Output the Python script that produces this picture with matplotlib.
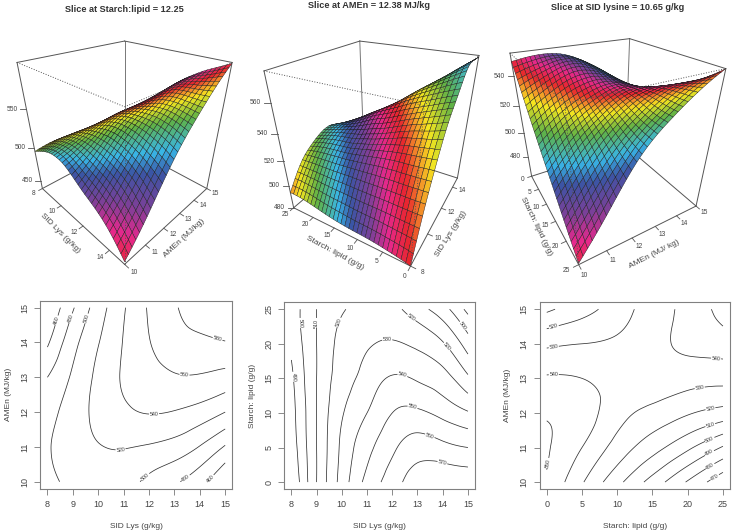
"""
Response surface slices: persp views on top, contour maps below
"""

import numpy as np
import matplotlib
matplotlib.use("Agg")
import matplotlib.pyplot as plt
import matplotlib.tri as mtri
from matplotlib.colors import LinearSegmentedColormap
from mpl_toolkits.mplot3d import proj3d

plt.rcParams['font.family'] = ['Liberation Sans', 'DejaVu Sans']

FIG_W, FIG_H = 733, 532

# values
lys_grid = [8, 9, 10, 11, 12, 13, 14, 15]
amen_grid = [10, 11, 12, 13, 14, 15]
starch_grid = [0, 5, 10, 15, 20, 25]

# rows = AMEn, columns = SID Lys
gain_lys_amen = [
    [495, 505, 511, 508, 495, 483, 467, 441],
    [498, 511, 519, 521, 518, 512, 499, 478],
    [492, 510, 525, 536, 541, 539, 532, 520],
    [480, 503, 525, 542, 552, 558, 558, 553],
    [457, 493, 519, 541, 559, 572, 576, 579],
    [440, 478, 510, 538, 562, 578, 590, 600],
]
# rows = starch:lipid, columns = SID Lys
gain_lys_starch = [
    [480, 510, 534, 553, 565, 576, 578, 577],
    [484, 510, 532, 547, 558, 565, 563, 560],
    [486, 510, 529, 540, 550, 552, 547, 541],
    [488, 510, 525, 534, 541, 539, 534, 522],
    [492, 510, 523, 529, 531, 528, 521, 505],
    [494, 510, 519, 524, 523, 514, 504, 487],
]
# rows = AMEn, columns = starch:lipid
gain_starch_amen = [
    [549, 531, 513, 496, 479, 463],
    [551, 540, 526, 514, 502, 489],
    [549, 545, 534, 527, 521, 516],
    [541, 540, 537, 536, 534, 533],
    [528, 530, 532, 537, 542, 545],
    [508, 516, 525, 535, 543, 554],
]

levels_1 = [440, 460, 480, 500, 520, 540, 560, 580]
levels_2 = [480, 490, 500, 510, 520, 530, 540, 550, 560, 570]
levels_3 = [470, 480, 490, 500, 510, 520, 530, 540, 550]

labels_1 = [(8.3, 14.65), (8.9, 14.7), (9.5, 14.7), (14.7, 14.1), (13.4, 13.1), (12.2, 11.95),
            (10.9, 10.8), (11.9, 10.1), (13.4, 10.15), (14.4, 10.1)]
labels_2 = [(8.0, 15.2), (8.35, 23), (9.03, 23), (9.95, 23), (11.8, 20.9), (12.4, 15.4),
            (12.8, 10.8), (13.5, 6.8), (14.0, 3.0), (12.8, 24), (14.3, 20), (14.75, 22.5)]
labels_3 = [(0.25, 10.55), (1, 13.1), (1, 13.9), (1, 14.5), (24, 13.5), (21.8, 12.6), (23.2, 12.15),
            (23.2, 11.65), (23.2, 11.2), (23.2, 10.8), (23.2, 10.45), (23.8, 10.15)]

rainbow = LinearSegmentedColormap.from_list("rainbow_muted", [
    (0.0, '#e8252d'), (0.08, '#f2872a'), (0.17, '#f6e61f'), (0.33, '#5fb246'),
    (0.5, '#39b6e6'), (0.6, '#3a55a5'), (0.75, '#7e3f98'), (0.87, '#e6288c'), (1.0, '#e8252d')])

TEXT = '#444444'
LINE = '#555555'


def px_axes(fig, left, top, right, bottom, **kw):
    return fig.add_axes([left / FIG_W, 1 - bottom / FIG_H, (right - left) / FIG_W, (bottom - top) / FIG_H], **kw)


def px_text(x, y, s, **kw):
    fig.text(x / FIG_W, 1 - y / FIG_H, s, ha='center', va='center', **kw)


def smooth(xs, ys, zs, n):
    """Resample a read-off grid on a fine mesh so the drawing is not angular."""
    xs, ys, zs = np.array(xs, float), np.array(ys, float), np.array(zs, float)
    gx, gy = np.meshgrid((xs - xs[0]) / (xs[-1] - xs[0]), (ys - ys[0]) / (ys[-1] - ys[0]))
    tri = mtri.Triangulation(gx.ravel(), gy.ravel())
    interp = mtri.CubicTriInterpolator(tri, zs.ravel(), kind='min_E')
    fx, fy = np.meshgrid(np.linspace(0, 1, n), np.linspace(0, 1, n))
    fz = np.ma.filled(interp(fx, fy), np.nan)
    fz[np.isnan(fz)] = zs.mean()
    return xs[0] + fx * (xs[-1] - xs[0]), ys[0] + fy * (ys[-1] - ys[0]), fz


def draw_contour(pos, xs, ys, zs, levels, manual, xticks, xlabel, ylabel):
    ax = px_axes(fig, *pos)
    X, Y, Z = smooth(xs, ys, zs, 141)
    cs = ax.contour(X, Y, Z, levels=levels, colors='#333333', linewidths=0.55)
    ax.clabel(cs, fmt='%d', fontsize=3.8, manual=manual, inline=True, inline_spacing=1)
    dx = (xs[-1] - xs[0]) * 0.04
    dy = (ys[-1] - ys[0]) * 0.04
    ax.set_xlim(xs[0] - dx, xs[-1] + dx)
    ax.set_ylim(ys[0] - dy, ys[-1] + dy)
    ax.set_xticks(xticks)
    ax.set_yticks(ys)
    ax.tick_params(length=4, width=0.6, color='#777777', labelcolor=TEXT, labelsize=6.5, pad=4)
    for lab in ax.get_yticklabels():
        lab.set_rotation(90)
        lab.set_va('center')
    for sp in ax.spines.values():
        sp.set_color('#808080')
        sp.set_linewidth(0.8)
    ax.set_xlabel(xlabel, fontsize=6, color=TEXT, labelpad=10)
    ax.set_ylabel(ylabel, fontsize=6, color=TEXT, labelpad=6)
    return ax


def draw_persp(center, side, xs, ys, zs, zlim, azim, hue, corners, first, second, zticks,
               elev=30, focal=0.217, zaspect=1.085):
    cx, cy = center
    ax = px_axes(fig, cx - side / 2, cy - side / 2, cx + side / 2, cy + side / 2,
                 projection='3d', computed_zorder=False)
    ax.patch.set_alpha(0)
    ax.set_axis_off()
    ax.set_proj_type('persp', focal_length=focal)
    ax.view_init(elev=elev, azim=azim)
    ax.set_box_aspect((1, 1, zaspect))
    xl = (xs[0], xs[-1])
    yl = (ys[0], ys[-1])
    ax.set_xlim(*xl)
    ax.set_ylim(*yl)
    ax.set_zlim(*zlim)
    ax.set_xticks([])
    ax.set_yticks([])
    ax.set_zticks([])
    dx, dy = xl[1] - xl[0], yl[1] - yl[0]
    zlo, zhi = zlim
    M = ax.get_proj()

    def seg(px, py, pz, zo, width=0.7, **kw):
        ax.plot(px, py, pz, color=LINE, linewidth=width, zorder=zo, clip_on=False, **kw)

    def edge(a, b, za, zb, zo, **kw):
        seg([a[0], b[0]], [a[1], b[1]], [za, zb], zo, **kw)

    def label(x, y, z, s, **kw):
        px, py, _ = proj3d.proj_transform(x, y, z, M)
        ax.text2D(px, py, s, transform=ax.transData, fontsize=4.8, color=TEXT, va='center', clip_on=False, **kw)

    # corner order on screen: left, front, right, back
    L, F, R, B = corners
    for a, b in [(L, B), (B, R)]:
        edge(a, b, zhi, zhi, 1)
        edge(a, b, zlo, zlo, 1)
    edge(B, B, zlo, zhi, 1, alpha=0.8)
    edge(L, L, zlo, zhi, 1)
    edge(R, R, zlo, zhi, 1)
    edge(L, F, zlo, zlo, 1)
    edge(F, R, zlo, zlo, 1)

    X, Y, Z = smooth(xs, ys, zs, 31)
    u = (X - xl[0]) / dx
    v = (Y - yl[0]) / dy
    colours = rainbow((hue[0] + hue[1] * u + hue[2] * v) % 1.0)
    surf = ax.plot_surface(X, Y, Z, facecolors=colours, rstride=1, cstride=1, shade=False,
                           edgecolor='#1a1a1a', linewidth=0.3, antialiased=True, zorder=2)
    surf.set_clip_on(False)

    # front edges are dotted over the surface
    edge(L, F, zhi, zhi, 3, linestyle=':')
    edge(F, R, zhi, zhi, 3, linestyle=':')
    edge(F, F, zlo, zhi, 3, linestyle=':')

    for axis in (first, second):
        ox, oy = axis['out']
        for pt, lab in zip(axis['points'], axis['labels']):
            seg([pt[0], pt[0] + 0.035 * dx * ox], [pt[1], pt[1] + 0.035 * dy * oy], [zlo, zlo], 4, width=0.6)
            label(pt[0] + 0.08 * dx * ox, pt[1] + 0.08 * dy * oy, zlo, str(lab), ha='center')

    # z ticks point straight left on screen
    sx = np.sin(np.radians(azim)) * dx
    sy = -np.cos(np.radians(azim)) * dy
    for val in zticks:
        seg([L[0], L[0] + 0.045 * sx], [L[1], L[1] + 0.045 * sy], [val, val], 4, width=0.6)
        label(L[0] + 0.065 * sx, L[1] + 0.065 * sy, val, str(val), ha='right')

    for axis in (first, second):
        x, y, s, rot = axis['title']
        px_text(x, y, s, rotation=rot, rotation_mode='anchor', fontsize=6, color=TEXT)
    return ax


fig = plt.figure(figsize=(FIG_W / 100, FIG_H / 100), dpi=100)

# top row
draw_persp((121.5, 137), 228, lys_grid, amen_grid, gain_lys_amen, (437, 601), -45, (0.25, 0.72, -1.0),
           [(8, 10), (15, 10), (15, 15), (8, 15)],
           {'out': (0, -1), 'points': [(v, 10) for v in (8, 10, 12, 14)], 'labels': (8, 10, 12, 14),
            'title': (60, 233, 'SID Lys (g/kg)', -45)},
           {'out': (1, 0), 'points': [(15, v) for v in (10, 11, 12, 13, 14, 15)], 'labels': (10, 11, 12, 13, 14, 15),
            'title': (184, 238, 'AMEn (MJ/kg)', 43)},
           (450, 500, 550))

draw_persp((378, 139), 234, lys_grid, starch_grid, gain_lys_starch, (480, 578), -150, (0.0, 0.66, -0.92),
           [(8, 25), (8, 0), (15, 0), (15, 25)],
           {'out': (-1, 0), 'points': [(8, v) for v in (25, 20, 15, 10, 5, 0)], 'labels': (25, 20, 15, 10, 5, 0),
            'title': (335, 253, 'Starch: lipid (g/g)', -28)},
           {'out': (0, -1), 'points': [(v, 0) for v in (8, 10, 12, 14)], 'labels': (8, 10, 12, 14),
            'title': (451, 234, 'SID Lys (g/kg)', 58)},
           (480, 500, 520, 540, 560))

draw_persp((605, 137), 235, starch_grid, amen_grid, gain_starch_amen, (462, 554), -30, (-0.03, 1.0, -0.97),
           [(0, 10), (25, 10), (25, 15), (0, 15)],
           {'out': (0, -1), 'points': [(v, 10) for v in (0, 5, 10, 15, 20, 25)], 'labels': (0, 5, 10, 15, 20, 25),
            'title': (536, 226, 'Starch: lipid (g/g)', -64)},
           {'out': (1, 0), 'points': [(25, v) for v in (10, 11, 12, 13, 14, 15)], 'labels': (10, 11, 12, 13, 14, 15),
            'title': (654, 254, 'AMEn (MJ/ kg)', 27)},
           (480, 500, 520, 540))

# bottom row
draw_contour((40.3, 300.7, 232.3, 488.7), lys_grid, amen_grid, gain_lys_amen, levels_1, labels_1,
             lys_grid, 'SID Lys (g/kg)', 'AMEn (MJ/kg)')
draw_contour((284.3, 302.3, 475, 489), lys_grid, starch_grid, gain_lys_starch, levels_2, labels_2,
             lys_grid, 'SID Lys (g/kg)', 'Starch: lipid (g/g)')
draw_contour((539.7, 302.3, 730, 489), starch_grid, amen_grid, gain_starch_amen, levels_3, labels_3,
             starch_grid, 'Starch: lipid (g/g)', 'AMEn (MJ/kg)')

for x, y, s in [(124, 10, 'Slice at Starch:lipid = 12.25'), (369, 6, 'Slice at AMEn = 12.38 MJ/kg'),
                (618, 7, 'Slice at SID lysine = 10.65 g/kg')]:
    px_text(x, y, s, fontsize=6.6, fontweight='bold', color='#333333')

fig.savefig('out.png', dpi=100)
